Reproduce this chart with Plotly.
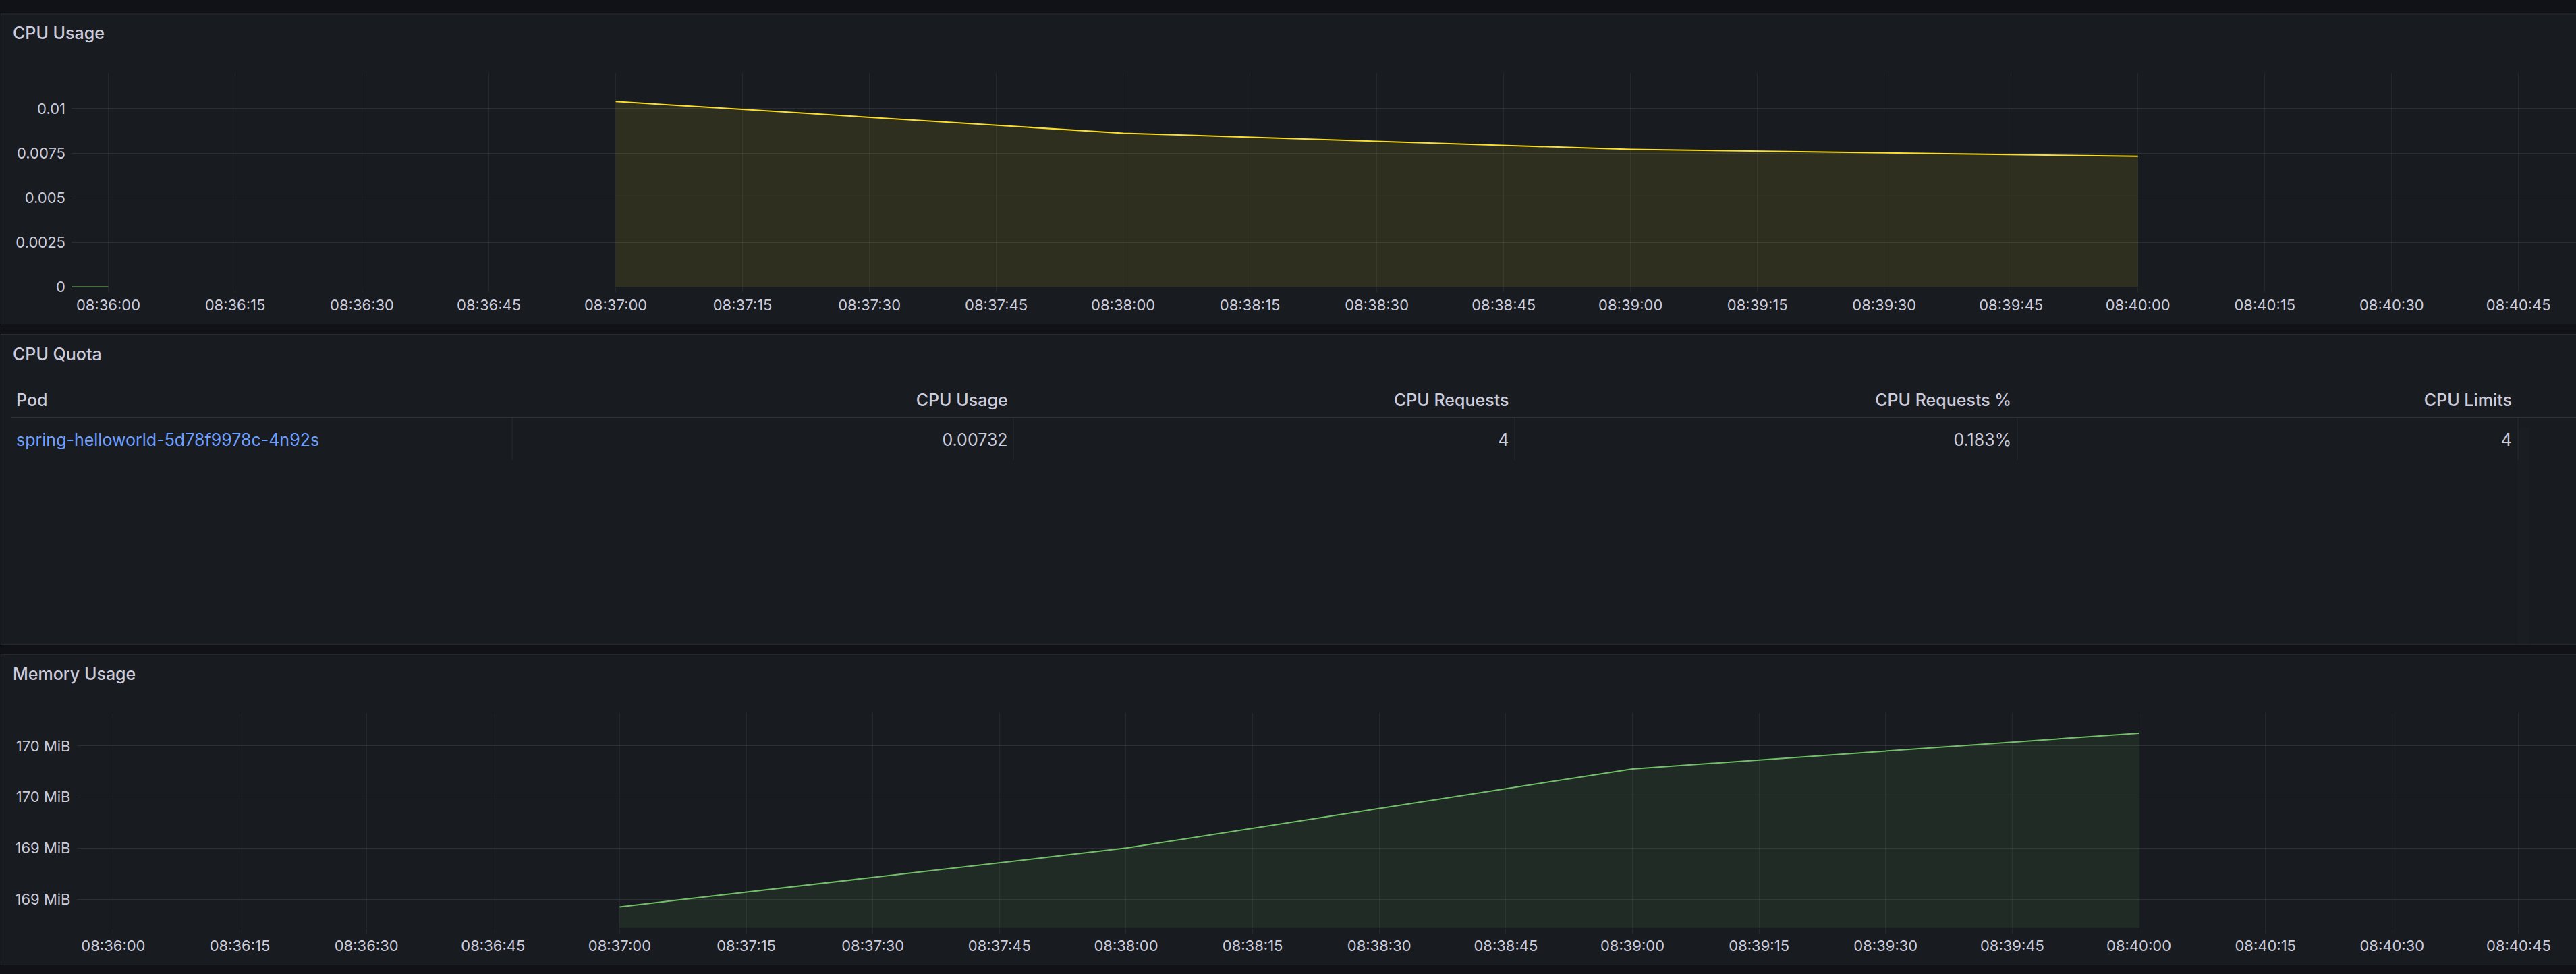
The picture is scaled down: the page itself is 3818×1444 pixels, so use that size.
import plotly.graph_objects as go

W, H = 3818, 1444

# CPU usage of the pod (cores)
cpu_time = ["2024-05-14 08:37:00", "2024-05-14 08:38:00",
            "2024-05-14 08:39:00", "2024-05-14 08:40:00"]
cpu_usage = [0.0104, 0.00862, 0.00771, 0.00732]

# second series, only a flat zero stub at the left edge
cpu_other_time = ["2024-05-14 08:35:00", "2024-05-14 08:36:00"]
cpu_other = [0, 0]

# memory usage (MiB)
mem_time = ["2024-05-14 08:37:00", "2024-05-14 08:38:00",
            "2024-05-14 08:39:00", "2024-05-14 08:40:00"]
mem_usage = [169.17, 169.40, 169.71, 169.85]
mem_tickvals = [169.2, 169.4, 169.6, 169.8]
mem_ticktext = ["169 MiB", "169 MiB", "170 MiB", "170 MiB"]

# CPU quota table
quota_headers = ["Pod", "CPU Usage", "CPU Requests", "CPU Requests %", "CPU Limits"]
quota_pod = ["spring-helloworld-5d78f9978c-4n92s"]
quota_usage = ["0.00732"]
quota_requests = ["4"]
quota_requests_pct = ["0.183%"]
quota_limits = ["4"]

x_range = ["2024-05-14 08:35:55.65", "2024-05-14 08:40:51.8"]

PAGE = "#111217"
PANEL = "#181b1f"
BORDER = "rgba(204,204,220,0.12)"
XGRID = "rgba(204,204,220,0.07)"
YGRID = "rgba(204,204,220,0.11)"
TEXT = "#ccccdc"
LINK = "#6e9fff"
YELLOW = "#fade2a"
GREEN = "#73bf69"
FONT = "Inter"

# table geometry (pixels)
TABLE_LEFT = 16
COL_W = [743, 743, 743, 745, 742]
HEAD_RULE = 624
ROW_BOTTOM = 688


def py(p):
    # pixel row (from top) -> paper y
    return 1 - p / H


def px(p):
    return p / W


fig = go.Figure()

fig.add_trace(go.Scatter(x=cpu_other_time, y=cpu_other, mode="lines",
                         line=dict(color=GREEN, width=2), fill="tozeroy",
                         fillcolor="rgba(115,191,105,0.1)", xaxis="x", yaxis="y"))
fig.add_trace(go.Scatter(x=cpu_time, y=cpu_usage, mode="lines",
                         line=dict(color=YELLOW, width=2), fill="tozeroy",
                         fillcolor="rgba(250,222,42,0.1)", xaxis="x", yaxis="y"))
fig.add_trace(go.Scatter(x=mem_time, y=mem_usage, mode="lines",
                         line=dict(color=GREEN, width=2), fill="tozeroy",
                         fillcolor="rgba(115,191,105,0.1)", xaxis="x2", yaxis="y2"))

fig.add_trace(go.Table(
    domain=dict(x=[px(TABLE_LEFT), px(TABLE_LEFT + sum(COL_W))], y=[py(964), py(580)]),
    columnwidth=COL_W,
    header=dict(values=quota_headers,
                align=["left", "right", "right", "right", "right"],
                fill_color=PANEL, line_color=PANEL, height=59,
                font=dict(family=FONT, size=25, color=TEXT, weight=500)),
    cells=dict(values=[quota_pod, quota_usage, quota_requests, quota_requests_pct, quota_limits],
               align=["left", "right", "right", "right", "right"],
               fill_color=PANEL, line_color=PANEL, height=49,
               font=dict(family=FONT, size=25, color=[LINK, TEXT, TEXT, TEXT, TEXT])),
))

xaxis_style = dict(type="date", range=x_range, tickformat="%H:%M:%S",
                   tick0="2024-05-14 08:36:00", dtick=15000,
                   showgrid=True, gridcolor=XGRID, gridwidth=1,
                   ticks="outside", ticklen=7, tickcolor=XGRID, tickwidth=1,
                   showline=False, zeroline=False, fixedrange=True,
                   tickfont=dict(family=FONT, size=22, color=TEXT))
yaxis_style = dict(showgrid=True, gridcolor=YGRID, gridwidth=1, ticks="",
                   showline=False, zeroline=False, ticklabelstandoff=8,
                   fixedrange=True,
                   tickfont=dict(family=FONT, size=22, color=TEXT))

# panels: fill up to the page edge, border only where it is visible
shapes = []
panels = [(21, 485, True), (500, 964, True), (979, H, False)]
for top, bottom, closed in panels:
    shapes.append(dict(type="rect", xref="paper", yref="paper", layer="below",
                       x0=px(1), x1=1, y0=py(bottom), y1=py(top),
                       fillcolor=PANEL, line=dict(width=0)))
    if closed:
        path = "M 1,%s L 0.0003,%s L 0.0003,%s L 1,%s" % (py(bottom), py(bottom), py(top), py(top))
    else:
        path = "M 0.0003,%s L 0.0003,%s L 1,%s" % (py(bottom), py(top), py(top))
    shapes.append(dict(type="path", xref="paper", yref="paper", layer="below",
                       path=path, line=dict(color=BORDER, width=1)))

# table header rule and cell separators
shapes.append(dict(type="line", xref="paper", yref="paper", layer="above",
                   x0=px(TABLE_LEFT), x1=1, y0=py(HEAD_RULE), y1=py(HEAD_RULE),
                   line=dict(color="rgba(204,204,220,0.15)", width=1)))
edge = TABLE_LEFT
for w in COL_W:
    edge += w
    shapes.append(dict(type="line", xref="paper", yref="paper", layer="above",
                       x0=px(edge), x1=px(edge), y0=py(ROW_BOTTOM), y1=py(HEAD_RULE),
                       line=dict(color="rgba(204,204,220,0.09)", width=1)))

titles = [("CPU Usage", 49), ("CPU Quota", 529.5), ("Memory Usage", 1008)]
annotations = [dict(text=t, x=px(17), y=py(yy), xref="paper", yref="paper",
                    xanchor="left", yanchor="middle", showarrow=False,
                    font=dict(family=FONT, size=25, color=TEXT, weight=500))
               for t, yy in titles]

fig.update_layout(
    width=W, height=H, autosize=False,
    margin=dict(l=0, r=0, t=0, b=0),
    paper_bgcolor=PAGE, plot_bgcolor="rgba(0,0,0,0)",
    showlegend=False,
    font=dict(family=FONT, color=TEXT),
    xaxis=dict(domain=[px(106), 1], anchor="y", **xaxis_style),
    yaxis=dict(domain=[py(429.3), py(109)], anchor="x", range=[0, 0.012],
               dtick=0.0025, tick0=0, **yaxis_style),
    xaxis2=dict(domain=[px(113.5), 1], anchor="y2", **xaxis_style),
    yaxis2=dict(domain=[py(1388.3), py(1066.7)], anchor="x2",
                range=[169.087, 169.929], tickvals=mem_tickvals,
                ticktext=mem_ticktext, **yaxis_style),
    shapes=shapes,
    annotations=annotations,
)

fig.write_html("out.html", config={"displayModeBar": False},
               post_script="document.body.style.margin='0';"
                           "document.body.style.background='#111217';"
                           "document.documentElement.style.overflow='hidden';")
